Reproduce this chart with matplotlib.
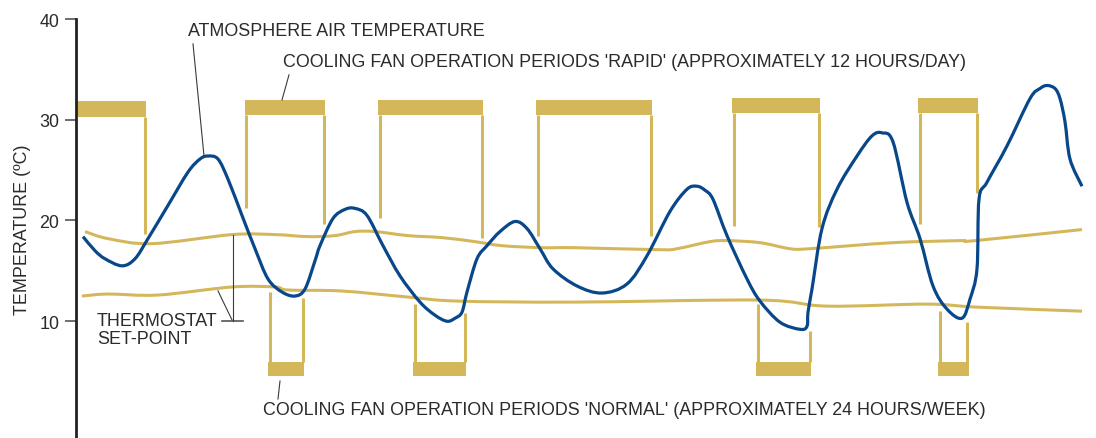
import matplotlib
matplotlib.use("Agg")
import matplotlib.pyplot as plt
from matplotlib.path import Path
from matplotlib.patches import PathPatch

plt.rcParams['font.family'] = ['Liberation Sans', 'DejaVu Sans']

# ---- data (time in arbitrary units, temperature in degC) ----
air_t = [0.7, 1.9, 2.9, 4.6, 5.9, 7.2, 9.2, 11.2, 12.4, 13.2, 14.2, 15.2, 16.6, 17.9,
         19.2, 20.6, 21.9, 22.9, 23.9, 24.4, 25.7, 26.9, 27.9, 29.1, 30.7, 32.4, 34.4,
         35.9, 37.1, 37.9, 38.6, 39.1, 40.1, 41.1, 42.4, 43.9, 45.1, 46.4, 47.7, 50.1,
         52.6, 55.1, 57.1, 59.4, 61.1, 62.1, 62.9, 63.7, 65.1, 67.1, 68.4, 70.4, 72.4,
         73.1, 73.2, 73.6, 74.6, 76.1, 78.1, 79.6, 80.6, 81.7, 83.1, 84.4, 85.7, 87.1,
         88.6, 89.4, 90.1, 90.3, 91.1, 93.1, 95.4, 96.4, 97.1, 97.9, 98.4, 98.9, 99.4,
         100.6]
air_temp = [18.4, 17.0, 16.2, 15.5, 16.2, 18.2, 21.5, 24.8, 26.1, 26.4, 26.1, 24.1, 20.5,
            17.2, 14.2, 12.9, 12.5, 13.2, 16.0, 17.5, 20.2, 21.1, 21.2, 20.5, 17.5, 14.5,
            11.9, 10.6, 10.0, 10.3, 10.9, 12.9, 16.2, 17.5, 18.9, 19.9, 19.2, 17.2, 15.2,
            13.5, 12.8, 13.7, 16.5, 20.9, 23.1, 23.4, 23.0, 22.1, 18.5, 14.2, 12.0, 9.9,
            9.2, 9.5, 10.9, 13.2, 19.2, 23.1, 26.4, 28.4, 28.7, 27.8, 21.8, 18.2, 13.5,
            11.2, 10.3, 12.2, 15.2, 22.1, 23.8, 27.4, 32.1, 33.1, 33.4, 33.1, 32.1, 29.8,
            26.1, 23.4]

upper_t = [0.9, 3.2, 7.6, 15.6, 19.9, 23.2, 25.9, 27.9, 29.9, 33.2, 36.6, 39.9, 42.6,
           46.6, 49.9, 58.4, 60.1, 63.4, 65.1, 68.4, 71.4, 73.4, 81.7, 88.4, 89.9, 100.6]
upper_temp = [18.9, 18.2, 17.7, 18.6, 18.6, 18.4, 18.5, 18.9, 18.9, 18.5, 18.3, 17.9, 17.5,
              17.3, 17.3, 17.1, 17.2, 17.9, 18.0, 17.8, 17.2, 17.2, 17.8, 18.0, 18.0, 19.1]

lower_t = [0.6, 3.2, 8.2, 15.6, 19.9, 21.2, 26.6, 33.2, 38.2, 49.9, 68.4, 75.1, 85.1,
           90.1, 100.6]
lower_temp = [12.5, 12.7, 12.6, 13.4, 13.4, 13.1, 13.0, 12.4, 12.0, 11.9, 12.1, 11.5, 11.7,
              11.4, 11.0]

# 'rapid' fan operation periods (start, end) and the level their sides drop to
rapid_start = [0.0, 16.9, 30.2, 46.0, 65.6, 84.2]
rapid_end = [7.0, 24.9, 40.7, 57.6, 74.4, 90.2]
rapid_left_drop = [None, 21.2, 20.2, 18.5, 19.5, 19.7]
rapid_right_drop = [18.7, 19.7, 18.3, 18.5, 19.4, 22.7]
rapid_bar_bottom = [30.3, 30.5, 30.5, 30.5, 30.7, 30.7]
rapid_bar_top = [31.9, 32.0, 32.0, 32.0, 32.2, 32.2]

# 'normal' fan operation periods
normal_start = [19.2, 33.7, 68.0, 86.2]
normal_end = [22.8, 39.0, 73.5, 89.3]
normal_left_top = [12.9, 11.7, 11.7, 11.0]
normal_right_top = [12.3, 10.8, 9.0, 9.9]
normal_bar_bottom = [4.6, 4.6, 4.6, 4.6]
normal_bar_top = [6.0, 6.0, 6.0, 6.0]

yticks = [10, 20, 30, 40]

GOLD = '#D5B75B'
BLUE = '#08478A'
INK = '#2b2b2b'
LEAD = '#3a3a3a'
FS = 12.9

fig = plt.figure(figsize=(10.96, 4.39), dpi=100)
W, H = 1096, 439
ax = fig.add_axes([76 / W, 0, 1014 / W, 1 - 20 / H])
ax.set_xlim(0, 101.4)
ax.set_ylim(-1.59, 40)

for s in ['top', 'right', 'bottom']:
    ax.spines[s].set_visible(False)
ax.spines['left'].set_color('#222222')
ax.spines['left'].set_linewidth(2)
ax.set_xticks([])
ax.set_yticks(yticks)
ax.set_yticklabels([str(v) for v in yticks], fontsize=FS, color=INK)
ax.tick_params(axis='y', direction='out', length=8, width=1.2, color='#555555', pad=4)
ax.set_ylabel('TEMPERATURE (ºC)', fontsize=FS, color=INK, labelpad=6)


def smooth_line(xs, ys, **kw):
    """Draw a smooth curve through the given points (Catmull-Rom as cubic Bezier)."""
    n = len(xs)
    verts = [(xs[0], ys[0])]
    codes = [Path.MOVETO]
    for i in range(n - 1):
        x0, y0 = (xs[i - 1], ys[i - 1]) if i > 0 else (xs[i], ys[i])
        x1, y1 = xs[i], ys[i]
        x2, y2 = xs[i + 1], ys[i + 1]
        x3, y3 = (xs[i + 2], ys[i + 2]) if i + 2 < n else (x2, y2)
        c1 = (x1 + (x2 - x0) / 6.0, y1 + (y2 - y0) / 6.0)
        c2 = (x2 - (x3 - x1) / 6.0, y2 - (y3 - y1) / 6.0)
        verts += [c1, c2, (x2, y2)]
        codes += [Path.CURVE4] * 3
    patch = PathPatch(Path(verts, codes), fill=False, transform=ax.transData,
                      capstyle='butt', joinstyle='round', **kw)
    ax.add_patch(patch)
    return patch


# thermostat set-point band
smooth_line(upper_t, upper_temp, edgecolor=GOLD, lw=2.2, zorder=2)
smooth_line(lower_t, lower_temp, edgecolor=GOLD, lw=2.2, zorder=2)

# rapid periods
off = 0.15
for i in range(len(rapid_start)):
    s, e = rapid_start[i], rapid_end[i]
    ax.bar(s, rapid_bar_top[i] - rapid_bar_bottom[i], width=e - s, bottom=rapid_bar_bottom[i],
           align='edge', color=GOLD, lw=0, zorder=2)
    if rapid_left_drop[i] is not None:
        ax.plot([s + off, s + off], [rapid_bar_bottom[i], rapid_left_drop[i]],
                color=GOLD, lw=2.2, solid_capstyle='butt', zorder=2)
    ax.plot([e - off, e - off], [rapid_bar_bottom[i], rapid_right_drop[i]],
            color=GOLD, lw=2.2, solid_capstyle='butt', zorder=2)

# normal periods
for i in range(len(normal_start)):
    s, e = normal_start[i], normal_end[i]
    ax.bar(s, normal_bar_top[i] - normal_bar_bottom[i], width=e - s, bottom=normal_bar_bottom[i],
           align='edge', color=GOLD, lw=0, zorder=2)
    ax.plot([s + off, s + off], [normal_bar_top[i], normal_left_top[i]],
            color=GOLD, lw=2.2, solid_capstyle='butt', zorder=2)
    ax.plot([e - off, e - off], [normal_bar_top[i], normal_right_top[i]],
            color=GOLD, lw=2.2, solid_capstyle='butt', zorder=2)

# atmosphere air temperature
smooth_line(air_t, air_temp, edgecolor=BLUE, lw=2.3, zorder=3)

# ---- annotations ----
def px(x, y):
    return ((x - 76) / 10.0, (423 - y) / 10.07)

ax.text(*px(188, 32), 'ATMOSPHERE AIR TEMPERATURE', fontsize=FS, color=INK,
        ha='left', va='center', clip_on=False)
ax.plot(*zip(px(193, 45), px(204, 157)), color=LEAD, lw=0.8, clip_on=False, zorder=4)

ax.text(*px(283, 63), "COOLING FAN OPERATION PERIODS 'RAPID' (APPROXIMATELY 12 HOURS/DAY)",
        fontsize=FS, color=INK, ha='left', va='center', clip_on=False)
ax.plot(*zip(px(289, 76), px(282, 101)), color=LEAD, lw=0.8, clip_on=False, zorder=4)

ax.text(*px(97, 322), 'THERMOSTAT', fontsize=FS, color=INK, ha='left', va='center')
ax.text(*px(97, 340), 'SET-POINT', fontsize=FS, color=INK, ha='left', va='center')
ax.plot(*zip(px(222, 322), px(243, 322)), color='#555555', lw=1.2, zorder=4)
ax.plot(*zip(px(233, 236), px(233, 322)), color=LEAD, lw=0.8, zorder=4)
ax.plot(*zip(px(218, 292), px(232, 321)), color=LEAD, lw=0.8, zorder=4)

ax.text(*px(263, 411), "COOLING FAN OPERATION PERIODS 'NORMAL' (APPROXIMATELY 24 HOURS/WEEK)",
        fontsize=FS, color=INK, ha='left', va='center', clip_on=False)
ax.plot(*zip(px(280, 382), px(278, 400)), color=LEAD, lw=0.8, zorder=4)

fig.savefig('out.png', dpi=100)
